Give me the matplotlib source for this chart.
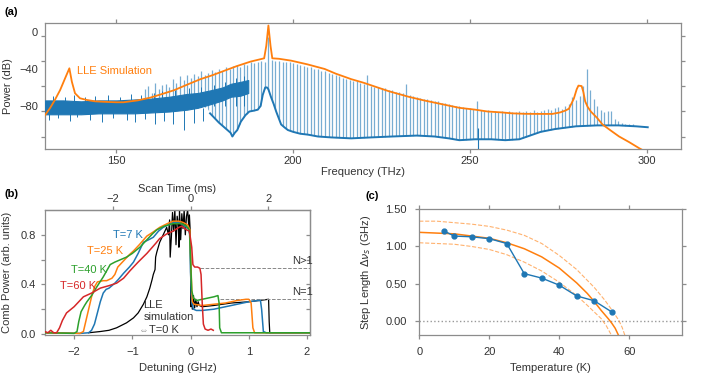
import numpy as np
import matplotlib.pyplot as plt
from matplotlib.ticker import FormatStrFormatter

plt.rcParams['font.family'] = ['Liberation Sans', 'DejaVu Sans']
plt.rcParams['font.size'] = 8

blue, orange = '#1f77b4', '#ff7f0e'
green, red = '#2ca02c', '#d62728'
spine_c = '#8c8c8c'
text_c = '#333333'

# ---------- (a) spectrum ----------
# comb lines, 1 THz apart, tips in dB
comb_freq = np.arange(158, 297)
comb_tip = [-62, -58, -66, -55, -62, -57, -56, -60, -51, -55, -48, -52,
            -47, -50, -45, -48, -42, -46, -44, -41, -43, -40, -42, -38,
            -40, -37, -36, -38, -35, -36, -33, -34, -33, -31, -32, -5,
            -30, -31, -31, -32, -33, -33, -34, -35, -36, -37, -38, -38,
            -40, -40, -42, -42, -44, -45, -47, -48, -50, -51, -52, -53,
            -53, -55, -56, -47, -58, -59, -59, -61, -61, -63, -63, -65,
            -65, -66, -56, -68, -69, -70, -71, -72, -72, -74, -75, -75,
            -77, -77, -78, -79, -80, -80, -81, -82, -82, -83, -75, -84,
            -85, -84, -86, -85, -86, -85, -86, -85, -86, -86, -85, -86,
            -85, -86, -84, -86, -85, -84, -83, -84, -82, -81, -83, -80,
            -78, -70, -74, -69, -58, -40, -63, -72, -80, -84, -87, -85,
            -85, -94, -96, -98, -99, -99, -100]

# noisy band below 187 THz
band_x = [129.8, 135, 140, 145, 150, 155, 160, 165, 170, 173, 176.7, 180, 182.4, 185, 187.3]
band_hi = [-74, -74, -75, -74, -74, -73, -72, -70, -67, -66, -63, -60, -56, -54, -52]
band_lo = [-89, -89, -89, -88, -88, -88, -87, -86, -84, -82, -78, -74, -70, -69, -66]
spike_x = [131, 133.5, 137, 139, 142.5, 146, 149, 153, 155.4, 158, 161, 163.5, 166, 169, 172, 174.5]
spike_lo = [-95, -93, -96, -92, -95, -97, -93, -95, -97, -94, -99, -96, -100, -106, -98, -96]
up_x = [132, 135.5, 138, 141, 144, 147.5, 151, 154, 157, 160.5, 163, 166.5, 170.5, 174,
        177.5, 180.8, 183.8, 186.2]
up_hi = [-69, -70, -68, -70, -69, -68, -70, -67, -68, -66, -64, -63, -61, -60,
         -57, -54, -50, -48]

# lower trace and floor
trace_x = [176.5, 177.5, 179, 180.5, 181.4, 182.3, 182.8, 183.5, 184.2, 185.2, 186.5, 187.6,
           189, 190.0, 190.8, 191.4, 192.1, 192.6, 193.0, 193.7, 194.5, 195.2, 196.0, 196.6,
           197.5, 198.5, 200, 202, 204.2, 207, 210.8, 216.4, 222, 228, 235, 240, 244, 247,
           251.5, 253, 256, 260, 264, 267, 270, 274, 280, 286, 292, 297, 300.3]
trace_y = [-88, -92, -98, -103, -106, -109, -113, -109, -106, -97, -90, -86,
           -85, -84, -80, -68, -60, -60, -62, -70, -78, -86, -94, -100,
           -103, -106, -108, -110, -111, -113, -114, -115, -114, -113, -112, -113, -115, -117,
           -116, -116, -116, -117, -116, -112, -108, -105, -102, -101, -101, -102, -103]
band_edge_x = [129.8, 140, 150, 160, 166, 171, 175.5]
band_edge_y = [-88, -88, -87, -86, -85, -83, -81]

# LLE simulation envelope
lle_x = [129.8, 131.2, 132.6, 134.1, 135.5, 136.7, 137.4, 138.3, 139.7, 141.6, 144, 146.4,
         150, 152, 156, 159.6, 163, 166.3, 170, 173.8, 177, 180.5, 184, 188, 191.8, 192.4,
         193.0, 193.6, 194.1, 196, 199.4, 204, 208.9, 212, 216.4, 220, 223.1, 227, 232.6,
         237, 242, 247, 251.5, 255, 259.1, 262, 265.7, 270, 273.3, 275.5, 277, 278.0, 279.4,
         280.2, 280.7, 281.6, 282.1, 282.6, 283.3, 284.2, 286, 287.5, 290, 292.2, 295, 297.9, 299]
lle_y = [-90, -82.5, -73.5, -62.7, -50, -39.3, -53.7, -66.3, -71.7, -73.5, -75, -75.5,
         -76, -76, -74, -71, -67, -63, -57, -51, -47, -42, -37, -32, -28.5, -15,
         7, -15, -28.5, -29, -31, -35, -40, -45, -51, -55, -59, -64, -70,
         -74, -78, -82, -84, -86, -87, -88, -88.5, -88.6, -88.6, -87, -85, -83, -72,
         -62, -58, -58.5, -65, -75, -81, -86, -93, -100, -107, -113, -119, -125.7, -128]

# ---------- (b) comb power vs detuning ----------
t7_x = [-2.5, -2.2, -1.9, -1.75, -1.70, -1.65, -1.6, -1.55, -1.5, -1.45, -1.4, -1.35, -1.3, -1.24,
        -1.15, -1.05, -0.98, -0.9, -0.85, -0.81, -0.72, -0.64, -0.55, -0.47, -0.38, -0.3, -0.2,
        -0.1, -0.04, -0.01, 0.0, 0.02, 0.05, 0.1, 0.2, 0.4, 0.6, 0.8, 1.0, 1.15, 1.2, 1.22, 1.25,
        1.3, 1.6, 2.05]
t7_y = [0.01, 0.01, 0.005, 0.01, 0.03, 0.08, 0.17, 0.26, 0.33, 0.36, 0.37, 0.39, 0.41, 0.44,
        0.49, 0.54, 0.58, 0.65, 0.70, 0.74, 0.76, 0.78, 0.83, 0.86, 0.88, 0.90, 0.90,
        0.87, 0.85, 0.80, 0.5, 0.25, 0.20, 0.19, 0.19, 0.20, 0.22, 0.24, 0.26, 0.27, 0.27, 0.2, 0.02,
        0.01, 0.01, 0.01]
t25_x = [-2.5, -1.9, -1.84, -1.80, -1.75, -1.70, -1.65, -1.6, -1.5, -1.44, -1.35, -1.30, -1.25,
         -1.15, -1.05, -0.98, -0.88, -0.75, -0.65, -0.53, -0.4, -0.3, -0.2, -0.13, -0.05, -0.01,
         0.01, 0.03, 0.06, 0.2, 0.4, 0.6, 0.8, 0.95, 1.0, 1.04, 1.07, 1.1, 1.5, 2.05]
t25_y = [0.01, 0.005, 0.02, 0.1, 0.2, 0.3, 0.38, 0.42, 0.43, 0.43, 0.45, 0.48, 0.54,
         0.59, 0.64, 0.67, 0.72, 0.79, 0.82, 0.86, 0.89, 0.91, 0.91, 0.90, 0.88, 0.84,
         0.5, 0.26, 0.24, 0.23, 0.24, 0.25, 0.27, 0.28, 0.28, 0.25, 0.05, 0.01, 0.01, 0.01]
t40_x = [-2.5, -2.0, -1.95, -1.92, -1.88, -1.82, -1.78, -1.7, -1.61, -1.5, -1.38, -1.3, -1.2,
         -1.1, -1.0, -0.87, -0.75, -0.65, -0.58, -0.45, -0.3, -0.15, -0.07, -0.02, 0.0, 0.02,
         0.05, 0.1, 0.2, 0.3, 0.4, 0.47, 0.49, 0.5, 0.53, 0.9, 2.05]
t40_y = [0.01, 0.005, 0.02, 0.1, 0.18, 0.23, 0.26, 0.31, 0.38, 0.46, 0.56, 0.58, 0.60,
         0.62, 0.65, 0.70, 0.76, 0.81, 0.84, 0.87, 0.89, 0.89, 0.87, 0.84, 0.6, 0.35,
         0.29, 0.27, 0.28, 0.29, 0.30, 0.31, 0.25, 0.05, 0.01, 0.01, 0.01]
t60_x = [-2.5, -2.45, -2.4, -2.35, -2.3, -2.25, -2.2, -2.13, -2.0, -1.9, -1.84, -1.7, -1.55,
         -1.4, -1.27, -1.15, -1.04, -0.9, -0.75, -0.6, -0.53, -0.4, -0.3, -0.2, -0.15, -0.07,
         -0.02, 0.02, 0.04, 0.07, 0.12, 0.16, 0.18, 0.2, 0.22, 0.25, 0.3, 0.35, 0.39]
t60_y = [0.02, 0.01, 0.03, 0.01, 0.01, 0.05, 0.11, 0.17, 0.22, 0.27, 0.30, 0.33, 0.37,
         0.39, 0.41, 0.45, 0.51, 0.58, 0.65, 0.73, 0.77, 0.81, 0.83, 0.86, 0.87, 0.84,
         0.83, 0.7, 0.56, 0.54, 0.54, 0.53, 0.48, 0.25, 0.08, 0.04, 0.03, 0.04, 0.03]
lle_det = [-1.75, -1.55, -1.4, -1.27, -1.1, -0.98, -0.9, -0.81, -0.75, -0.7, -0.66, -0.64,
           -0.61, -0.6, -0.58, -0.53, -0.47, -0.41, -0.38, -0.36, -0.35, -0.33, -0.31, -0.29,
           -0.27, -0.25, -0.23, -0.21, -0.2, -0.19, -0.17, -0.15, -0.13, -0.11, -0.09, -0.07,
           -0.05, -0.03, -0.02, -0.005, 0.0, 0.005, 0.02, 0.03, 0.05, 0.07, 0.09, 0.11, 0.13,
           0.15, 0.2, 0.4, 0.7, 1.0, 1.34, 1.35, 1.36, 1.6, 2.05]
lle_pow = [0.01, 0.02, 0.03, 0.05, 0.09, 0.13, 0.17, 0.24, 0.30, 0.37, 0.44, 0.48,
           0.52, 0.62, 0.66, 0.74, 0.80, 0.86, 0.80, 0.92, 0.62, 0.78, 0.98, 0.83,
           1.0, 0.72, 0.95, 0.88, 0.70, 1.0, 0.76, 0.97, 0.85, 1.0, 0.80, 0.95,
           1.0, 0.85, 0.96, 0.82, 0.5, 0.22, 0.33, 0.20, 0.31, 0.21, 0.28, 0.22, 0.26,
           0.23, 0.22, 0.23, 0.25, 0.26, 0.28, 0.1, 0.01, 0.01, 0.01]

# ---------- (c) step length vs temperature ----------
temp = [7, 10, 15, 20, 25, 30, 35, 40, 45, 50, 55]
step = [1.21, 1.14, 1.13, 1.105, 1.04, 0.635, 0.575, 0.48, 0.335, 0.27, 0.12]
fit_T = [0, 5, 10, 15, 20, 25, 30, 35, 40, 45, 48, 50, 52, 54, 55, 56, 57]
fit_mid = [1.19, 1.18, 1.17, 1.14, 1.11, 1.05, 0.97, 0.86, 0.71, 0.51, 0.37, 0.26, 0.14, 0.03, -0.03, -0.10, -0.20]
hi_T = [0, 5, 10, 15, 20, 25, 30, 35, 40, 45, 50, 53, 55, 57, 58, 58.8]
fit_hi = [1.34, 1.34, 1.32, 1.30, 1.27, 1.22, 1.15, 1.04, 0.88, 0.69, 0.45, 0.28, 0.15, 0.01, -0.09, -0.20]
lo_T = [0, 5, 10, 15, 20, 25, 30, 35, 40, 45, 48, 50, 52, 53.5, 55]
fit_lo = [1.05, 1.04, 1.03, 1.00, 0.96, 0.89, 0.79, 0.67, 0.52, 0.34, 0.21, 0.12, 0.03, -0.07, -0.20]


def style(ax):
    for s in ax.spines.values():
        s.set_color(spine_c)
        s.set_linewidth(0.9)
    ax.tick_params(which='both', colors=spine_c, labelcolor=text_c, labelsize=8,
                   length=3, width=0.9, direction='out')


fig = plt.figure(figsize=(7.15, 3.79), dpi=100)

# (a)
ax_a = fig.add_axes([0.0629, 0.6069, 0.8895, 0.3325])
ax_a.vlines(comb_freq, -130, comb_tip, color=blue, lw=0.9, alpha=0.6, zorder=1)
ax_a.fill_between(band_edge_x + trace_x + [310], -130, band_edge_y + trace_y + [-104],
                  color='white', lw=0, zorder=2)
ax_a.fill_between(band_x, band_lo, band_hi, color=blue, lw=0.8, zorder=3)
ax_a.vlines(spike_x, spike_lo, -82, color=blue, lw=0.7, zorder=3)
ax_a.vlines(up_x, -80, up_hi, color=blue, lw=0.7, zorder=3)
ax_a.vlines([252.3], -126, -104, color=blue, lw=0.8, zorder=3)
ax_a.plot(trace_x, trace_y, color=blue, lw=1.4, zorder=3)
ax_a.plot(lle_x, lle_y, color=orange, lw=1.3, zorder=4)
ax_a.text(138.8, -42, 'LLE Simulation', color=orange, fontsize=8, va='center')
ax_a.set_xlim(129.8, 309.7)
ax_a.set_ylim(-126.5, 9.7)
style(ax_a)
ax_a.set_xticks([150, 200, 250, 300])
ax_a.tick_params(axis='x', top=True, pad=2)
ax_a.set_yticks([0, -40, -80], ['0', '\u221240', '\u221280'])
ax_a.set_yticks([-4, -31, -58.4, -85.7, -113.2], minor=True)
ax_a.tick_params(axis='y', which='major', length=0, pad=5)
ax_a.tick_params(axis='y', which='minor', right=True)
ax_a.set_xlabel('Frequency (THz)', color=text_c, labelpad=1)
ax_a.set_ylabel('Power (dB)', color=text_c)
ax_a.yaxis.set_label_coords(-0.050, 0.5)

# (b)
ax_b = fig.add_axes([0.0629, 0.1161, 0.3706, 0.3298])
ax_b.plot(lle_det, lle_pow, color='black', lw=0.9, zorder=2)
ax_b.plot(t7_x, t7_y, color=blue, lw=1.1, zorder=3)
ax_b.plot(t25_x, t25_y, color=orange, lw=1.1, zorder=3)
ax_b.plot(t40_x, t40_y, color=green, lw=1.1, zorder=3)
ax_b.plot(t60_x, t60_y, color=red, lw=1.1, zorder=3)
ax_b.plot([0.17, 2.05], [0.53, 0.53], color='#888888', ls='--', lw=0.7)
ax_b.plot([0.5, 2.05], [0.28, 0.28], color='#888888', ls='--', lw=0.7)
ax_b.text(-1.34, 0.80, 'T=7 K', color=blue, va='center')
ax_b.text(-1.77, 0.67, 'T=25 K', color=orange, va='center')
ax_b.text(-2.06, 0.52, 'T=40 K', color=green, va='center')
ax_b.text(-2.24, 0.39, 'T=60 K', color=red, va='center')
ax_b.text(-0.81, 0.235, 'LLE', color=text_c, va='center')
ax_b.text(-0.81, 0.135, 'simulation', color=text_c, va='center')
ax_b.text(-0.90, 0.03, '\u21d4', color='#999999', va='center', fontsize=7)
ax_b.text(-0.72, 0.03, 'T=0 K', color=text_c, va='center')
ax_b.text(2.1, 0.59, 'N>1', color=text_c, ha='right', va='center')
ax_b.text(2.1, 0.335, 'N=1', color=text_c, ha='right', va='center')
ax_b.set_xlim(-2.5, 2.05)
ax_b.set_ylim(-0.008, 1.0)
style(ax_b)
ax_b.set_xticks([-2, -1, 0, 1, 2])
ax_b.tick_params(axis='x', pad=6)
ax_b.set_yticks([0, 0.2, 0.4, 0.6, 0.8], ['0.0', '', '0.4', '', '0.8'])
ax_b.set_xlabel('Detuning (GHz)', color=text_c)
ax_b.set_ylabel('Comb Power (arb. units)', color=text_c)
ax_b.yaxis.set_label_coords(-0.1245, 0.5)
top_b = ax_b.secondary_xaxis('top', functions=(lambda d: d * 1.5, lambda t: t / 1.5))
top_b.set_xticks([-2, 0, 2])
style(top_b)
top_b.tick_params(pad=1)
top_b.set_xlabel('Scan Time (ms)', color=text_c, labelpad=2)
right_b = ax_b.secondary_yaxis('right')
right_b.set_yticks([0.2, 0.4, 0.6, 0.8])
style(right_b)
right_b.tick_params(direction='in', labelright=False)

# (c)
ax_c = fig.add_axes([0.5864, 0.1161, 0.367, 0.3317])
ax_c.axhline(0, color='#999999', ls=':', lw=1.0, zorder=1)
ax_c.plot(hi_T, fit_hi, color=orange, ls='--', lw=0.8, alpha=0.6)
ax_c.plot(lo_T, fit_lo, color=orange, ls='--', lw=0.8, alpha=0.6)
ax_c.plot(fit_T, fit_mid, color=orange, lw=1.1)
ax_c.plot(temp, step, color=blue, lw=1.0, marker='o', ms=3.5)
ax_c.set_xlim(0, 75)
ax_c.set_ylim(-0.19, 1.5)
style(ax_c)
ax_c.set_xticks([0, 20, 40, 60])
ax_c.set_yticks([0, 0.5, 1.0, 1.5])
ax_c.yaxis.set_major_formatter(FormatStrFormatter('%.2f'))
ax_c.tick_params(axis='x', top=True, pad=6)
ax_c.tick_params(axis='y', right=True, pad=6)
ax_c.set_xlabel('Temperature (K)', color=text_c)
ax_c.set_ylabel(r'Step Length $\Delta\nu_s$ (GHz)', color=text_c)
ax_c.yaxis.set_label_coords(-0.175, 0.5)

fig.text(0.006, 1 - 12 / 379, '(a)', weight='bold', va='center', fontsize=8)
fig.text(0.006, 1 - 194 / 379, '(b)', weight='bold', va='center', fontsize=8)
fig.text(366 / 715, 1 - 196 / 379, '(c)', weight='bold', va='center', fontsize=8)

fig.savefig('out.png', dpi=100)
